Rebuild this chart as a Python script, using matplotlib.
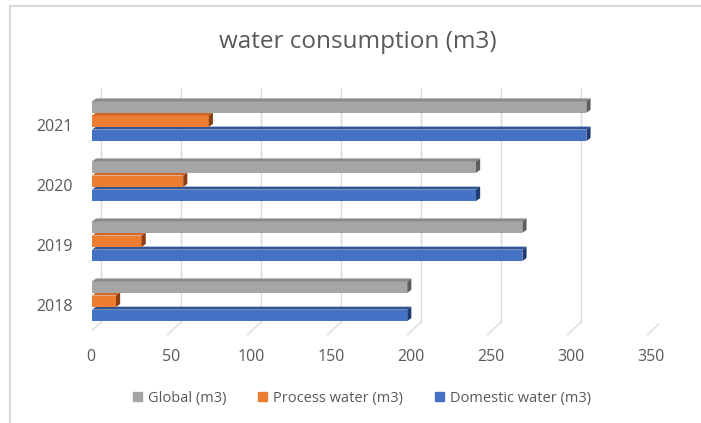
import matplotlib
matplotlib.use('Agg')
import matplotlib.pyplot as plt
import matplotlib.transforms as mtrans
from matplotlib.patches import Polygon, Rectangle
import numpy as np

plt.rcParams['font.family'] = ['Open Sans', 'DejaVu Sans']

# data
years = ['2018', '2019', '2020', '2021']
global_m3 = [197, 269, 240, 309]
process_m3 = [15, 31, 57, 73]
domestic_m3 = [197, 269, 240, 309]
xticks = [0, 50, 100, 150, 200, 250, 300, 350]

# (label, values, front colour, top colour, side colour)
series = [
    ('Domestic water (m3)', domestic_m3, '#4472C4', '#2F5597', '#203D73'),
    ('Process water (m3)', process_m3, '#ED7D31', '#D0682A', '#8B3F12'),
    ('Global (m3)', global_m3, '#A5A5A5', '#8A8A8A', '#5E5E5E'),
]

text_col = '#595959'
W, H = 701, 423
fig = plt.figure(figsize=(W / 100, H / 100), dpi=100)

# axes in pixel terms: left 92, right 659, top 88, bottom 335
ax = fig.add_axes([92 / W, 1 - 335 / H, (659 - 92) / W, (335 - 88) / H])
ax.set_xlim(0, (659 - 92) / 1.6)
ax.set_ylim(-0.59, 3.525)
for s in ax.spines.values():
    s.set_visible(False)

dx_back = 5.6    # back-wall offset in data units
dx_front = -3.0
y_back = -0.375
y_front = -0.59

# gridlines on the back wall and floor diagonals
for t in xticks:
    ax.plot([t + dx_back, t + dx_back], [y_back, 3.525], color='#D9D9D9', lw=1, zorder=0)
    ax.plot([t + dx_back, t + dx_front], [y_back, y_front], color='#D9D9D9', lw=1, zorder=0)

pos = np.arange(len(years))
slot = 0.235
front_h = 0.19
top_h = 0.05
depth = 2.6  # right shift of the top face in data units

legend_handles = []
for k, (name, vals, c_front, c_top, c_side) in enumerate(series):
    off = -0.358 + k * slot
    ax.barh(pos + off, vals, height=front_h, left=0, align='edge',
            color=c_front, zorder=2 + k)
    for y0, v in zip(pos + off, vals):
        yt = y0 + front_h
        ax.add_patch(Polygon([(0, yt), (v, yt), (v + depth, yt + top_h), (depth, yt + top_h)],
                             closed=True, color=c_top, zorder=2 + k, lw=0))
        ax.add_patch(Polygon([(v, y0), (v, yt), (v + depth, yt + top_h), (v + depth, y0 + top_h)],
                             closed=True, color=c_side, zorder=2 + k, lw=0))
    legend_handles.append((name, c_front))

ax.set_xticks(xticks)
ax.set_xticklabels([str(t) for t in xticks])
ax.set_yticks(pos)
ax.set_yticklabels(years)
ax.tick_params(axis='both', length=0, labelsize=11.5, labelcolor=text_col)
ax.tick_params(axis='x', pad=10)
ax.tick_params(axis='y', pad=14)

# shift labels to sit at the front plane
shift_x = mtrans.ScaledTranslation(-1 / 100, 0, fig.dpi_scale_trans)
for lab in ax.get_xticklabels():
    lab.set_transform(lab.get_transform() + shift_x)
shift_y = mtrans.ScaledTranslation(0, -5 / 100, fig.dpi_scale_trans)
for lab in ax.get_yticklabels():
    lab.set_transform(lab.get_transform() + shift_y)

fig.text(358 / W, 1 - 42 / H, 'water consumption (m3)', ha='center', va='center',
         fontsize=17.5, color=text_col)

# legend in the order Global, Process, Domestic
order = [legend_handles[2], legend_handles[1], legend_handles[0]]
handles = [Rectangle((0, 0), 1, 1, color=c) for _, c in order]
fig.legend(handles, [n for n, _ in order], loc='center', bbox_to_anchor=(362 / W, 1 - 398 / H),
           ncol=3, frameon=False, fontsize=10.5, labelcolor=text_col,
           handlelength=0.6, handleheight=0.6, handletextpad=0.4, columnspacing=2.2)

# faint frame round the chart
fig.add_artist(Rectangle((10 / W, -0.1), 1.2, 1 - 6 / H + 0.1, transform=fig.transFigure,
                         fill=False, edgecolor='#D9D9D9', lw=1.5))

fig.savefig('out.png', dpi=100)
